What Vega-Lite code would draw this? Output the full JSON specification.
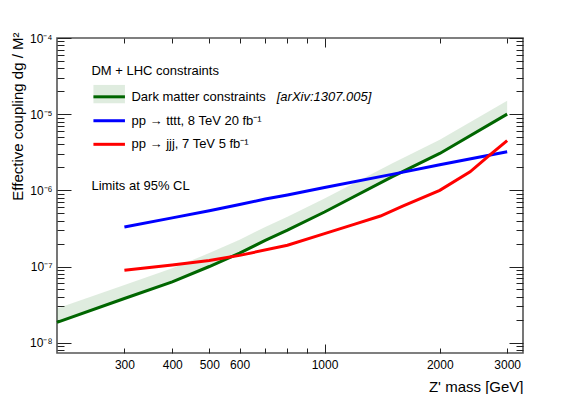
{
  "$schema": "https://vega.github.io/schema/vega-lite/v6.json",
  "width": 466,
  "height": 315,
  "autosize": "none",
  "padding": {"left": 57, "top": 38, "right": 58, "bottom": 41},
  "config": {
    "font": "Liberation Sans",
    "view": {"stroke": "#555", "strokeWidth": 1.6},
    "axis": {
      "domain": false,
      "grid": false,
      "tickColor": "#222",
      "tickWidth": 1,
      "labelColor": "#000",
      "labelFontSize": 12,
      "titleColor": "#000",
      "titleFontSize": 15,
      "titleFontWeight": "normal"
    }
  },
  "datasets": {
    "dm": [
      {"m": 200, "lo": 1.85e-8, "hi": 2.8e-8},
      {"m": 300, "lo": 3.8e-8, "hi": 5.7e-8},
      {"m": 400, "lo": 6.3e-8, "hi": 9.5e-8},
      {"m": 500, "lo": 1.0e-7, "hi": 1.5e-7},
      {"m": 600, "lo": 1.5e-7, "hi": 2.25e-7},
      {"m": 700, "lo": 2.2e-7, "hi": 3.3e-7},
      {"m": 800, "lo": 3.0e-7, "hi": 4.5e-7},
      {"m": 1000, "lo": 5.2e-7, "hi": 7.8e-7},
      {"m": 1500, "lo": 1.5e-6, "hi": 2.25e-6},
      {"m": 2000, "lo": 3.05e-6, "hi": 4.6e-6},
      {"m": 3000, "lo": 1.0e-5, "hi": 1.5e-5}
    ],
    "tttt": [
      {"m": 300, "g": 3.3e-7},
      {"m": 400, "g": 4.35e-7},
      {"m": 500, "g": 5.4e-7},
      {"m": 600, "g": 6.5e-7},
      {"m": 700, "g": 7.7e-7},
      {"m": 800, "g": 8.7e-7},
      {"m": 1000, "g": 1.09e-6},
      {"m": 1500, "g": 1.62e-6},
      {"m": 2000, "g": 2.17e-6},
      {"m": 3000, "g": 3.22e-6}
    ],
    "jjj": [
      {"m": 300, "g": 8.9e-8},
      {"m": 400, "g": 1.05e-7},
      {"m": 500, "g": 1.2e-7},
      {"m": 600, "g": 1.4e-7},
      {"m": 800, "g": 1.9e-7},
      {"m": 1000, "g": 2.7e-7},
      {"m": 1200, "g": 3.6e-7},
      {"m": 1400, "g": 4.6e-7},
      {"m": 1600, "g": 6.2e-7},
      {"m": 2000, "g": 1.0e-6},
      {"m": 2400, "g": 1.75e-6},
      {"m": 2700, "g": 2.9e-6},
      {"m": 3000, "g": 4.5e-6}
    ],
    "one": [{}]
  },
  "resolve": {"axis": {"x": "independent", "y": "independent"}},
  "layer": [
    {
      "data": {"name": "dm"},
      "mark": {"type": "area", "color": "#3f8f3f", "opacity": 0.17},
      "encoding": {
        "x": {
          "field": "m", "type": "quantitative",
          "scale": {"type": "log", "domain": [200, 3300], "nice": false},
          "axis": {
            "orient": "bottom",
            "title": "Z' mass [GeV]",
            "titleAnchor": "end",
            "titleAlign": "right",
            "titleBaseline": "alphabetic",
            "titleX": 466,
            "titleY": 38,
            "values": [300, 400, 500, 600, 700, 800, 900, 1000, 2000, 3000],
            "labelExpr": "(datum.value == 700 || datum.value == 800 || datum.value == 900) ? '' : '' + datum.value",
            "labelBaseline": "top",
            "labelPadding": {"condition": {"test": "datum.value == 1000", "value": 15}, "value": 11},
            "tickSize": {"condition": {"test": "datum.value == 1000", "value": -9}, "value": -5}
          }
        },
        "y": {
          "field": "lo", "type": "quantitative",
          "scale": {"type": "log", "domain": [7.32e-9, 1e-4], "nice": false},
          "axis": {
            "orient": "left",
            "title": "Effective coupling dg / M²",
            "titleAnchor": "end",
            "titleAlign": "right",
            "titleBaseline": "middle",
            "titleAngle": -90,
            "titleX": -40,
            "titleY": -6,
            "values": [8e-9, 9e-9, 1e-8, 2e-8, 3e-8, 4e-8, 5e-8, 6e-8, 7e-8, 8e-8, 9e-8, 1e-7, 2e-7, 3e-7, 4e-7, 5e-7, 6e-7, 7e-7, 8e-7, 9e-7, 1e-6, 2e-6, 3e-6, 4e-6, 5e-6, 6e-6, 7e-6, 8e-6, 9e-6, 1e-5, 2e-5, 3e-5, 4e-5, 5e-5, 6e-5, 7e-5, 8e-5, 9e-5, 1e-4],
            "labelExpr": "abs(log(datum.value)/LN10 - round(log(datum.value)/LN10)) < 1e-6 ? '10⁻' + ['0','¹','²','³','⁴','⁵','⁶','⁷','⁸','⁹'][-round(log(datum.value)/LN10)] : ''",
            "labelPadding": 19,
            "tickSize": {"condition": {"test": "abs(log(datum.value)/LN10 - round(log(datum.value)/LN10)) < 1e-6", "value": -14}, "value": -7}
          }
        },
        "y2": {"field": "hi"}
      }
    },
    {
      "data": {"name": "dm"},
      "mark": {"type": "line", "color": "#006600", "strokeWidth": 3},
      "encoding": {
        "x": {
          "field": "m", "type": "quantitative",
          "scale": {"type": "log", "domain": [200, 3300], "nice": false},
          "axis": {
            "orient": "top",
            "title": null,
            "labels": false,
            "values": [300, 400, 500, 600, 700, 800, 900, 1000, 2000, 3000],
            "tickSize": {"condition": {"test": "datum.value == 1000", "value": -9}, "value": -5}
          }
        },
        "y": {
          "field": "lo", "type": "quantitative",
          "scale": {"type": "log", "domain": [7.32e-9, 1e-4], "nice": false},
          "axis": {
            "orient": "right",
            "title": null,
            "labels": false,
            "values": [8e-9, 9e-9, 1e-8, 2e-8, 3e-8, 4e-8, 5e-8, 6e-8, 7e-8, 8e-8, 9e-8, 1e-7, 2e-7, 3e-7, 4e-7, 5e-7, 6e-7, 7e-7, 8e-7, 9e-7, 1e-6, 2e-6, 3e-6, 4e-6, 5e-6, 6e-6, 7e-6, 8e-6, 9e-6, 1e-5, 2e-5, 3e-5, 4e-5, 5e-5, 6e-5, 7e-5, 8e-5, 9e-5, 1e-4],
            "tickSize": {"condition": {"test": "abs(log(datum.value)/LN10 - round(log(datum.value)/LN10)) < 1e-6", "value": -14}, "value": -7}
          }
        }
      }
    },
    {
      "data": {"name": "tttt"},
      "mark": {"type": "line", "color": "#0000ff", "strokeWidth": 3},
      "encoding": {
        "x": {"field": "m", "type": "quantitative", "axis": null},
        "y": {"field": "g", "type": "quantitative", "axis": null}
      }
    },
    {
      "data": {"name": "jjj"},
      "mark": {"type": "line", "color": "#ff0000", "strokeWidth": 3},
      "encoding": {
        "x": {"field": "m", "type": "quantitative", "axis": null},
        "y": {"field": "g", "type": "quantitative", "axis": null}
      }
    },
    {
      "data": {"name": "one"},
      "mark": {"type": "rect", "color": "#3f8f3f", "opacity": 0.17},
      "encoding": {
        "x": {"datum": 249, "type": "quantitative", "axis": null},
        "x2": {"datum": 301},
        "y": {"datum": 1.39e-5, "type": "quantitative", "axis": null},
        "y2": {"datum": 2.42e-5}
      }
    },
    {
      "data": {"name": "one"},
      "mark": {"type": "rule", "color": "#006600", "strokeWidth": 3},
      "encoding": {
        "x": {"datum": 249, "type": "quantitative", "axis": null},
        "x2": {"datum": 301},
        "y": {"datum": 1.69e-5, "type": "quantitative", "axis": null}
      }
    },
    {
      "data": {"name": "one"},
      "mark": {"type": "rule", "color": "#0000ff", "strokeWidth": 3},
      "encoding": {
        "x": {"datum": 249, "type": "quantitative", "axis": null},
        "x2": {"datum": 301},
        "y": {"datum": 8.2e-6, "type": "quantitative", "axis": null}
      }
    },
    {
      "data": {"name": "one"},
      "mark": {"type": "rule", "color": "#ff0000", "strokeWidth": 3},
      "encoding": {
        "x": {"datum": 249, "type": "quantitative", "axis": null},
        "x2": {"datum": 301},
        "y": {"datum": 4.02e-6, "type": "quantitative", "axis": null}
      }
    },
    {
      "data": {"name": "one"},
      "mark": {"type": "text", "align": "left", "baseline": "middle", "fontSize": 13, "color": "#000", "text": "DM + LHC constraints"},
      "encoding": {
        "x": {"datum": 246, "type": "quantitative", "axis": null},
        "y": {"datum": 3.69e-5, "type": "quantitative", "axis": null}
      }
    },
    {
      "data": {"name": "one"},
      "mark": {"type": "text", "align": "left", "baseline": "middle", "fontSize": 13, "color": "#000", "text": "Dark matter constraints"},
      "encoding": {
        "x": {"datum": 313, "type": "quantitative", "axis": null},
        "y": {"datum": 1.69e-5, "type": "quantitative", "axis": null}
      }
    },
    {
      "data": {"name": "one"},
      "mark": {"type": "text", "align": "left", "baseline": "middle", "fontSize": 13, "fontStyle": "italic", "color": "#000", "text": "[arXiv:1307.005]"},
      "encoding": {
        "x": {"datum": 750, "type": "quantitative", "axis": null},
        "y": {"datum": 1.69e-5, "type": "quantitative", "axis": null}
      }
    },
    {
      "data": {"name": "one"},
      "mark": {"type": "text", "align": "left", "baseline": "middle", "fontSize": 13, "color": "#000", "text": "pp → tttt, 8 TeV 20 fb⁻¹"},
      "encoding": {
        "x": {"datum": 313, "type": "quantitative", "axis": null},
        "y": {"datum": 8.2e-6, "type": "quantitative", "axis": null}
      }
    },
    {
      "data": {"name": "one"},
      "mark": {"type": "text", "align": "left", "baseline": "middle", "fontSize": 13, "color": "#000", "text": "pp → jjj, 7 TeV 5 fb⁻¹"},
      "encoding": {
        "x": {"datum": 313, "type": "quantitative", "axis": null},
        "y": {"datum": 4.02e-6, "type": "quantitative", "axis": null}
      }
    },
    {
      "data": {"name": "one"},
      "mark": {"type": "text", "align": "left", "baseline": "middle", "fontSize": 13, "color": "#000", "text": "Limits at 95% CL"},
      "encoding": {
        "x": {"datum": 246, "type": "quantitative", "axis": null},
        "y": {"datum": 1.14e-6, "type": "quantitative", "axis": null}
      }
    }
  ]
}
